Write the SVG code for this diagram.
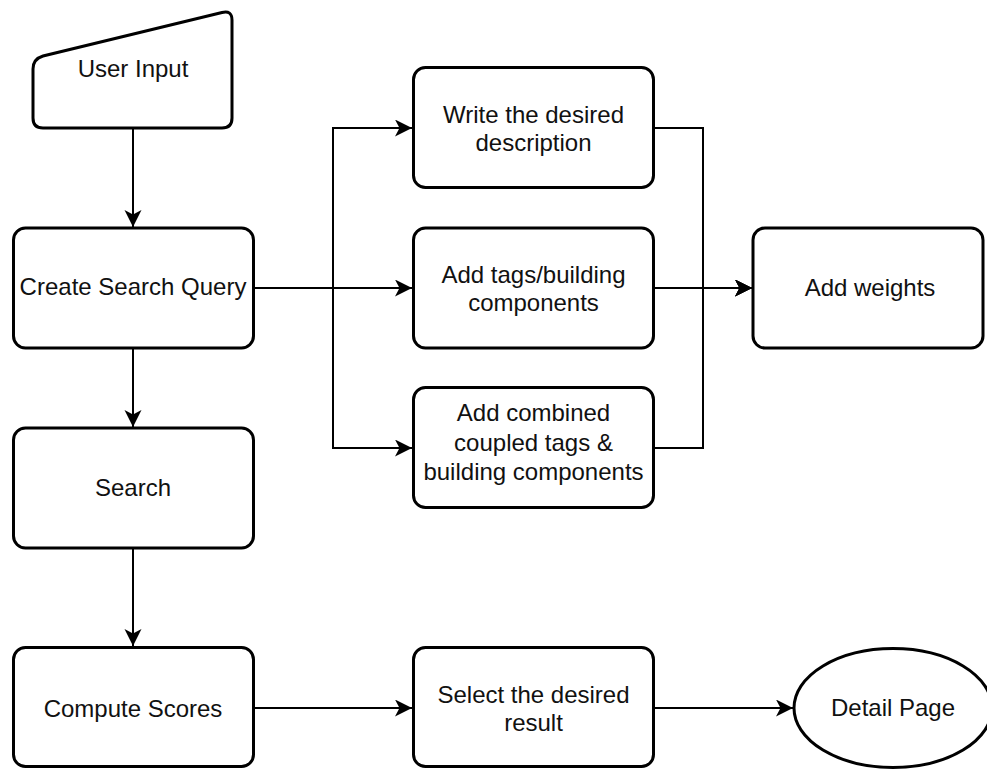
<svg xmlns="http://www.w3.org/2000/svg" width="987" height="769" viewBox="0 0 987 769">
  <style>
    .node { fill: #ffffff; stroke: #000000; stroke-width: 3; }
    .edge { fill: none; stroke: #000000; stroke-width: 2; }
    .lbl { font-family: "Liberation Sans", Arial, Helvetica, sans-serif; font-size: 24px; fill: #111111; text-anchor: middle; }
  </style>
  <defs>
    <marker id="arrow" markerUnits="userSpaceOnUse" markerWidth="18" markerHeight="18" refX="17" refY="8.5" orient="auto">
      <path d="M0,0 L17,8.5 L0,17 L4.5,8.5 Z" fill="#000000"/>
    </marker>
  </defs>
  <rect width="987" height="769" fill="#ffffff"/>

  <!-- connectors -->
  <g id="connectors">
    <path class="edge" d="M133,128 V227" marker-end="url(#arrow)"/>
    <path class="edge" d="M133,348 V427" marker-end="url(#arrow)"/>
    <path class="edge" d="M133,548 V646" marker-end="url(#arrow)"/>
    <path class="edge" d="M254,288 H333 V128 H412" marker-end="url(#arrow)"/>
    <path class="edge" d="M254,288 H412" marker-end="url(#arrow)"/>
    <path class="edge" d="M254,288 H333 V448 H412" marker-end="url(#arrow)"/>
    <path class="edge" d="M654,128 H703 V288 H752" marker-end="url(#arrow)"/>
    <path class="edge" d="M654,288 H752" marker-end="url(#arrow)"/>
    <path class="edge" d="M654,448 H703 V288 H752" marker-end="url(#arrow)"/>
    <path class="edge" d="M254,708 H412" marker-end="url(#arrow)"/>
    <path class="edge" d="M654,708 H793" marker-end="url(#arrow)"/>
  </g>

  <!-- nodes -->
  <g id="user-input">
    <path class="node" d="M33,69 Q33,59 43,56 L222,12.5 Q232,10 232,20 L232,118 Q232,128 222,128 L43,128 Q33,128 33,118 Z"/>
    <text class="lbl" x="133" y="77">User Input</text>
  </g>
  <g id="create-search-query">
    <rect class="node" x="13.5" y="228" width="240" height="120" rx="12"/>
    <text class="lbl" x="133" y="295">Create Search Query</text>
  </g>
  <g id="search">
    <rect class="node" x="13.5" y="428" width="240" height="120" rx="12"/>
    <text class="lbl" x="133" y="496">Search</text>
  </g>
  <g id="compute-scores">
    <rect class="node" x="13.5" y="647.5" width="240" height="119" rx="12"/>
    <text class="lbl" x="133" y="717">Compute Scores</text>
  </g>
  <g id="write-description">
    <rect class="node" x="413.5" y="67.5" width="240" height="120" rx="12"/>
    <text class="lbl" x="533.5" y="123">Write the desired<tspan x="533.5" y="151">description</tspan></text>
  </g>
  <g id="add-tags">
    <rect class="node" x="413.5" y="228" width="240" height="120" rx="12"/>
    <text class="lbl" x="533.5" y="283">Add tags/building<tspan x="533.5" y="311">components</tspan></text>
  </g>
  <g id="add-combined">
    <rect class="node" x="413.5" y="387.5" width="240" height="120" rx="12"/>
    <text class="lbl" x="533.5" y="421">Add combined<tspan x="533.5" y="451">coupled tags &amp;</tspan><tspan x="533.5" y="480">building components</tspan></text>
  </g>
  <g id="add-weights">
    <rect class="node" x="753" y="228" width="230" height="120" rx="12"/>
    <text class="lbl" x="870" y="296">Add weights</text>
  </g>
  <g id="select-result">
    <rect class="node" x="413.5" y="647.5" width="240" height="119" rx="12"/>
    <text class="lbl" x="533.5" y="703">Select the desired<tspan x="533.5" y="731">result</tspan></text>
  </g>
  <g id="detail-page">
    <ellipse class="node" cx="893" cy="708" rx="99" ry="59.5"/>
    <text class="lbl" x="893" y="716">Detail Page</text>
  </g>
</svg>
